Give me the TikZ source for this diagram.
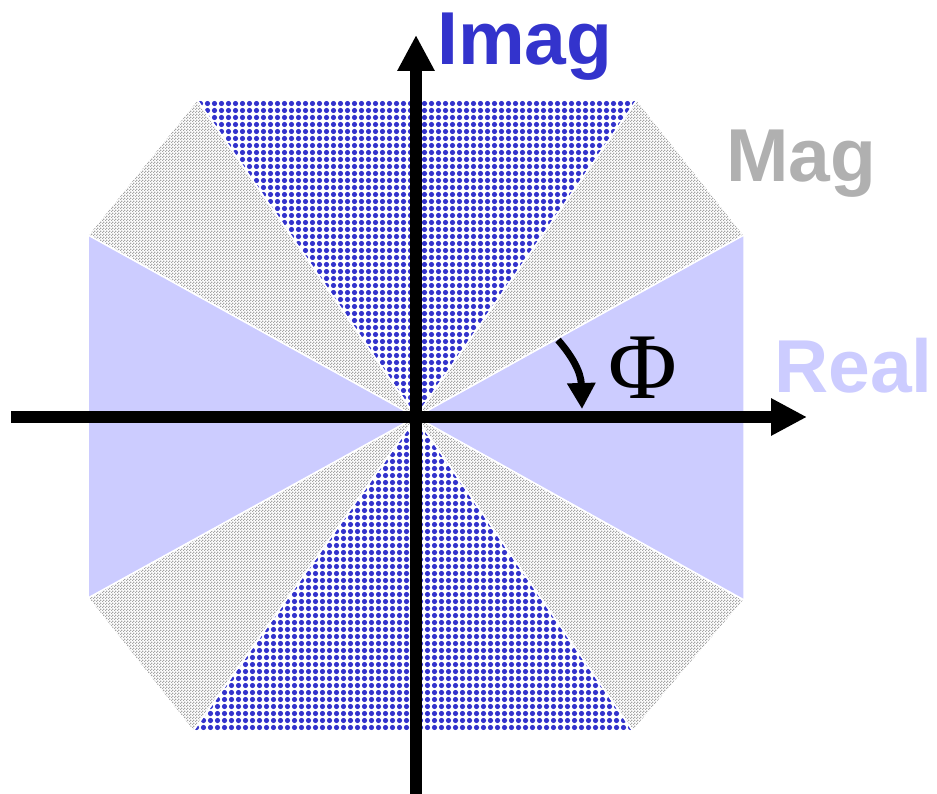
\documentclass[tikz,border=0pt]{standalone}
\usepackage{fontspec}
\setmainfont{Liberation Serif}
\setsansfont{Liberation Sans}
\usepackage{tikz}
\usetikzlibrary{arrows.meta, patterns}
\definecolor{imagblue}{HTML}{3333CC}
\definecolor{realblue}{HTML}{CCCCFF}
\definecolor{maggray}{HTML}{B0B0B0}
\definecolor{checkgray}{HTML}{A4A4A4}

\pgfdeclarepatternformonly{graychecks}{\pgfpointorigin}{\pgfpoint{3pt}{3pt}}{\pgfpoint{3pt}{3pt}}{%
  \pgfpathrectangle{\pgfpointorigin}{\pgfpoint{1.6pt}{1.6pt}}\pgfusepath{fill}%
  \pgfpathrectangle{\pgfpoint{1.5pt}{1.5pt}}{\pgfpoint{1.6pt}{1.6pt}}\pgfusepath{fill}}

\begin{document}
\begin{tikzpicture}[x=1pt, y=-1pt,
  gap/.style={draw=white, line width=1.5},
  magsector/.style={pattern=graychecks, pattern color=checkgray, gap},
  realsector/.style={fill=realblue, gap},
  axis/.style={line width=12, -{Triangle[length=36pt, width=35pt]}},
  label/.style={anchor=base west, inner sep=0, font=\sffamily\bfseries\fontsize{75}{80}\selectfont}]
  \useasboundingbox (0,0) rectangle (937,794);
  \coordinate (o) at (416,417);

  % Imag sectors
  \begin{scope}
    \clip (o) -- (197,100) -- (637,100) -- cycle;
    \foreach \i in {0,...,63}
      \foreach \j in {0,...,45}
        \fill[imagblue] (197+7*\i+3.5, 100+7*\j+3.5) circle (2.6);
  \end{scope}
  \begin{scope}
    \clip (o) -- (633,731) -- (193,731) -- cycle;
    \foreach \i in {0,...,63}
      \foreach \j in {0,...,45}
        \fill[imagblue] (193+7*\i+3.5, 731-7*\j-3.5) circle (2.6);
  \end{scope}
  \draw[gap] (o) -- (197,100) -- (637,100) -- cycle;
  \draw[gap] (o) -- (633,731) -- (193,731) -- cycle;

  % Mag sectors
  \draw[magsector] (o) -- (637,100) -- (744,235) -- cycle;
  \draw[magsector] (o) -- (744,600) -- (633,731) -- cycle;
  \draw[magsector] (o) -- (193,731) -- (88,598) -- cycle;
  \draw[magsector] (o) -- (88,235) -- (197,100) -- cycle;

  % Real sectors
  \draw[realsector] (o) -- (744,235) -- (744,600) -- cycle;
  \draw[realsector] (o) -- (88,598) -- (88,235) -- cycle;

  % Axes
  \coordinate (xstart) at (11,417);
  \coordinate (xend) at (807,417);
  \coordinate (ystart) at (416,794);
  \coordinate (yend) at (416,35);
  \draw[axis] (xstart) -- (xend);
  \draw[axis] (ystart) -- (yend);

  % Angle
  \coordinate (phistart) at (558,340);
  \coordinate (phiend) at (582,409);
  \draw[line width=7, -{Triangle[length=26pt, width=27pt]}] (phistart) .. controls (572,356) and (581,372) .. (phiend);
  \node[anchor=base west, inner sep=0, font=\fontsize{94}{100}\selectfont] (phi) at (608,398) {Φ};

  % Labels
  \node[label, text=imagblue] (imag) at (437,65) {Imag};
  \node[label, text=maggray] (mag) at (726,182) {Mag};
  \node[label, text=realblue] (real) at (774,392) {Real};
\end{tikzpicture}
\end{document}
